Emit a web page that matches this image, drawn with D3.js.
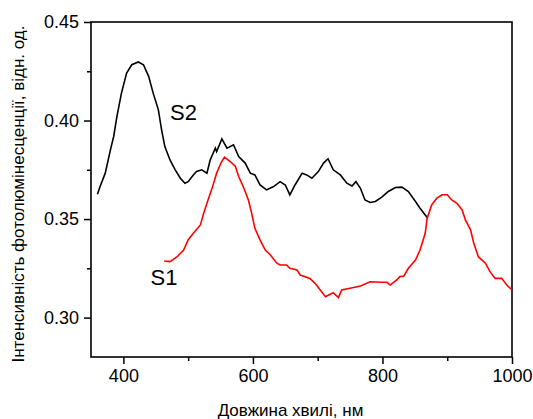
<!DOCTYPE html>
<html>
<head>
<meta charset="utf-8">
<script src="https://cdn.jsdelivr.net/npm/d3@7"></script>
<style>
  body { margin: 0; background: #fff; }
  svg text { font-family: "Liberation Sans", Arial, sans-serif; fill: #000; }
</style>
</head>
<body>
<div id="chartDiv"></div>
<script>
// wavelength (nm) / intensity pairs
var s2Wave = [360, 364, 372, 380, 385, 390, 397, 405, 413, 423, 431, 439, 446, 454, 459, 464, 472, 480, 488, 495, 500, 508, 513, 521, 529, 534, 542, 544, 552, 560, 570, 578, 588, 596, 603, 611, 621, 632, 642, 650, 657, 665, 676, 683, 691, 701, 709, 716, 724, 735, 745, 753, 759, 766, 773, 781, 789, 799, 809, 820, 830, 840, 851, 858, 870];
var s2Vals = [0.3626, 0.3665, 0.3733, 0.3851, 0.3919, 0.4020, 0.4139, 0.4241, 0.4283, 0.4297, 0.4283, 0.4224, 0.4139, 0.4054, 0.3953, 0.3868, 0.3800, 0.3750, 0.3707, 0.3682, 0.3690, 0.3724, 0.3741, 0.3750, 0.3733, 0.3800, 0.3860, 0.3843, 0.3907, 0.3860, 0.3877, 0.3817, 0.3784, 0.3733, 0.3724, 0.3673, 0.3648, 0.3665, 0.3690, 0.3673, 0.3623, 0.3673, 0.3733, 0.3724, 0.3707, 0.3741, 0.3784, 0.3806, 0.3750, 0.3724, 0.3682, 0.3668, 0.3690, 0.3656, 0.3597, 0.3584, 0.3589, 0.3611, 0.3640, 0.3660, 0.3662, 0.3640, 0.3589, 0.3555, 0.3504];

var s1Wave = [463, 472, 483, 493, 500, 508, 519, 524, 529, 537, 544, 551, 556, 565, 573, 578, 585, 593, 598, 603, 611, 619, 627, 637, 642, 652, 657, 668, 673, 688, 696, 704, 712, 717, 724, 732, 737, 750, 766, 781, 797, 807, 812, 822, 827, 833, 840, 851, 858, 866, 869, 876, 884, 892, 900, 907, 915, 923, 928, 936, 941, 948, 959, 966, 974, 984, 992, 1000];
var s1Vals = [0.3287, 0.3284, 0.3309, 0.3343, 0.3394, 0.3428, 0.3470, 0.3530, 0.3580, 0.3657, 0.3733, 0.3787, 0.3814, 0.3792, 0.3767, 0.3716, 0.3665, 0.3597, 0.3530, 0.3453, 0.3394, 0.3343, 0.3318, 0.3276, 0.3267, 0.3267, 0.3250, 0.3242, 0.3216, 0.3199, 0.3174, 0.3140, 0.3106, 0.3115, 0.3126, 0.3101, 0.3140, 0.3149, 0.3160, 0.3182, 0.3179, 0.3179, 0.3165, 0.3191, 0.3208, 0.3211, 0.3250, 0.3292, 0.3343, 0.3428, 0.3504, 0.3572, 0.3606, 0.3623, 0.3623, 0.3597, 0.3580, 0.3546, 0.3496, 0.3445, 0.3377, 0.3309, 0.3276, 0.3233, 0.3199, 0.3199, 0.3165, 0.3140];

var xTicks = [400, 600, 800, 1000];
var xMinor = [500, 700, 900];
var yTicks = [0.30, 0.35, 0.40, 0.45];
var yMinor = [0.325, 0.375, 0.425];

var xTitle = "Довжина хвилі, нм";
var yTitle = "Інтенсивність фотолюмінесценції, відн. од.";

var width = 533, height = 419;
var margin = { top: 22, right: 21, bottom: 62, left: 91 };
var chartWidth = width - margin.left - margin.right;
var chartHeight = height - margin.top - margin.bottom;

var svg = d3.select("#chartDiv").append("svg")
  .attr("width", width)
  .attr("height", height);

var xScale = d3.scaleLinear().domain([350, 1000]).range([0, chartWidth]);
var yScale = d3.scaleLinear().domain([0.28, 0.45]).range([chartHeight, 0]);

var plot = svg.append("g")
  .attr("transform", "translate(" + margin.left + "," + margin.top + ")");

// frame
plot.append("rect")
  .attr("width", chartWidth)
  .attr("height", chartHeight)
  .attr("fill", "none")
  .attr("stroke", "#000")
  .attr("stroke-width", 1.6);

// x axis, major + minor
plot.append("g")
  .attr("transform", "translate(0," + chartHeight + ")")
  .call(d3.axisBottom(xScale).tickValues(xTicks).tickSize(7).tickPadding(5).tickFormat(d3.format("d")));
plot.append("g")
  .attr("transform", "translate(0," + chartHeight + ")")
  .call(d3.axisBottom(xScale).tickValues(xMinor).tickSize(4).tickFormat(""));

plot.append("g")
  .call(d3.axisLeft(yScale).tickValues(yTicks).tickSize(7).tickPadding(5).tickFormat(d3.format(".2f")));
plot.append("g")
  .call(d3.axisLeft(yScale).tickValues(yMinor).tickSize(4).tickFormat(""));

plot.selectAll(".domain").remove();
plot.selectAll(".tick line").attr("stroke", "#000").attr("stroke-width", 1.5);
plot.selectAll(".tick text").style("font-size", "18px").style("font-family", "Liberation Sans, Arial, sans-serif");

// series
var line = d3.line()
  .x(function(d) { return xScale(d[0]); })
  .y(function(d) { return yScale(d[1]); });

var s2 = d3.zip(s2Wave, s2Vals);
var s1 = d3.zip(s1Wave, s1Vals);

plot.append("path")
  .datum(s2)
  .attr("d", line)
  .attr("fill", "none")
  .attr("stroke", "#000")
  .attr("stroke-width", 1.6);

plot.append("path")
  .datum(s1)
  .attr("d", line)
  .attr("fill", "none")
  .attr("stroke", "#ff0000")
  .attr("stroke-width", 1.6);

// series labels
plot.append("text")
  .attr("x", xScale(472))
  .attr("y", yScale(0.4004))
  .style("font-size", "22px")
  .text("S2");

plot.append("text")
  .attr("x", xScale(442))
  .attr("y", yScale(0.3165))
  .style("font-size", "22px")
  .text("S1");

// axis titles
svg.append("text")
  .attr("x", margin.left + chartWidth / 2 - 11)
  .attr("y", 416)
  .attr("text-anchor", "middle")
  .style("font-size", "17px")
  .text(xTitle);

svg.append("text")
  .attr("transform", "translate(24," + 194 + ") rotate(-90)")
  .attr("text-anchor", "middle")
  .style("font-size", "17px")
  .text(yTitle);
</script>
</body>
</html>
